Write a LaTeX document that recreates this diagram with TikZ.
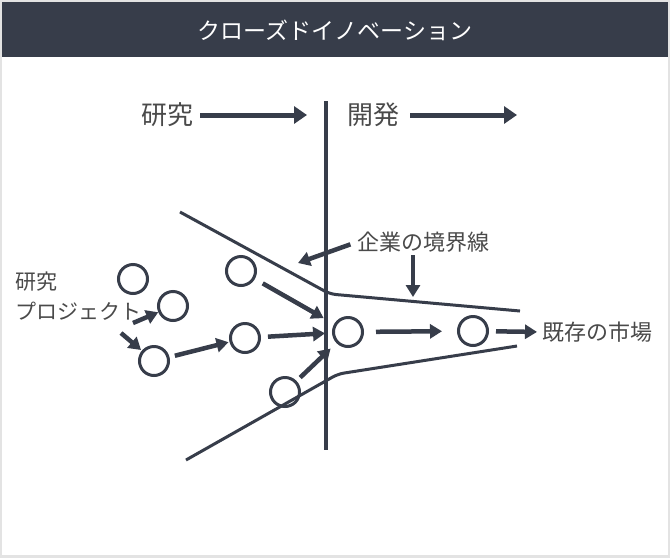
\documentclass[tikz,border=0pt]{standalone}
\usepackage{fontspec}
\setmainfont{Noto Sans CJK JP}
\usetikzlibrary{arrows.meta}
\usetikzlibrary{positioning}

\definecolor{ink}{HTML}{373D4A}
\definecolor{txt}{HTML}{4A4A4A}
\definecolor{rim}{HTML}{E3E3E3}

\begin{document}
\begin{tikzpicture}[x=1pt, y=-1pt,
    proj/.style={draw=ink, circle, line width=3pt, minimum size=29pt, inner sep=0pt},
    flow/.style={draw=ink, line width=4.5pt, -{Triangle[length=12pt,width=14pt]}},
    bigflow/.style={draw=ink, line width=5pt, -{Triangle[length=13pt,width=17pt]}},
    edge/.style={draw=ink, line width=3pt, rounded corners=6pt},
    lbl/.style={text=txt, inner sep=0pt, font=\fontsize{21}{30}\selectfont}]
    \useasboundingbox (0,0) rectangle (670,558);

    % Frame and header
    \fill[rim] (0,0) rectangle (670,558);
    \fill[white] (2,2) rectangle (668,555);
    \fill[ink] (2,2) rectangle (668,57);
    \node [text=white, font=\fontsize{23}{27}\selectfont] (title) at (335,30) {クローズドイノベーション};

    % Research / development heading
    \node [lbl, font=\fontsize{26}{30}\selectfont] (res) at (167,115) {研究};
    \node [lbl, font=\fontsize{26}{30}\selectfont] (dev) at (373,115) {開発};
    \coordinate (resend) at (307,115);
    \coordinate (devend) at (517,115);
    \draw [bigflow, shorten <=7pt] (res.east) -- (resend);
    \draw [bigflow, shorten <=11pt] (dev.east) -- (devend);
    \draw [ink, line width=3.5pt] (326,101) -- (326,450);

    % Company boundary
    \draw [edge] (180,212) -- (330,294) -- (520,311);
    \draw [edge] (186,460) -- (338,374) -- (517,346);

    % Projects
    \foreach \n/\x/\y in {1/133/279, 2/173/306, 3/154/361, 4/241/271, 5/245/338, 6/285/392, 7/348/332, 8/473/331} {
        \node [proj] (p\n) at (\x,\y) {};
    }

    % Labels
    \node [lbl, anchor=west, align=left] (proj) at (15,296) {研究\\プロジェクト};
    \node [lbl, anchor=west, font=\fontsize{22}{30}\selectfont] (bound) at (357,242) {企業の境界線};
    \node [lbl, anchor=west, font=\fontsize{22}{30}\selectfont] (market) at (542,332) {既存の市場};

    % Flows between projects
    \foreach \a/\b/\s/\e in {3/5/5.5/1, 4/7/9/12, 5/7/7/7, 6/7/5/8, 7/8/12/15} {
        \draw [flow, shorten <=\s pt, shorten >=\e pt] (p\a) -- (p\b);
    }
    \draw [flow, shorten <=7pt, shorten >=5pt] (p8) -- (market.west);

    % From the project label
    \coordinate (pa) at (133,323);
    \coordinate (pb) at (121,333);
    \draw [flow] (pa) -- (p2);
    \draw [flow, shorten >=1pt] (pb) -- (p3);

    % Pointers to the boundary
    \coordinate (tipa) at (298,263);
    \coordinate (tipb) at (413,297);
    \draw [flow, shorten <=7pt] (bound.west) -- (tipa);
    \draw [flow, shorten <=3pt] (tipb |- bound.south) -- (tipb);
\end{tikzpicture}
\end{document}
